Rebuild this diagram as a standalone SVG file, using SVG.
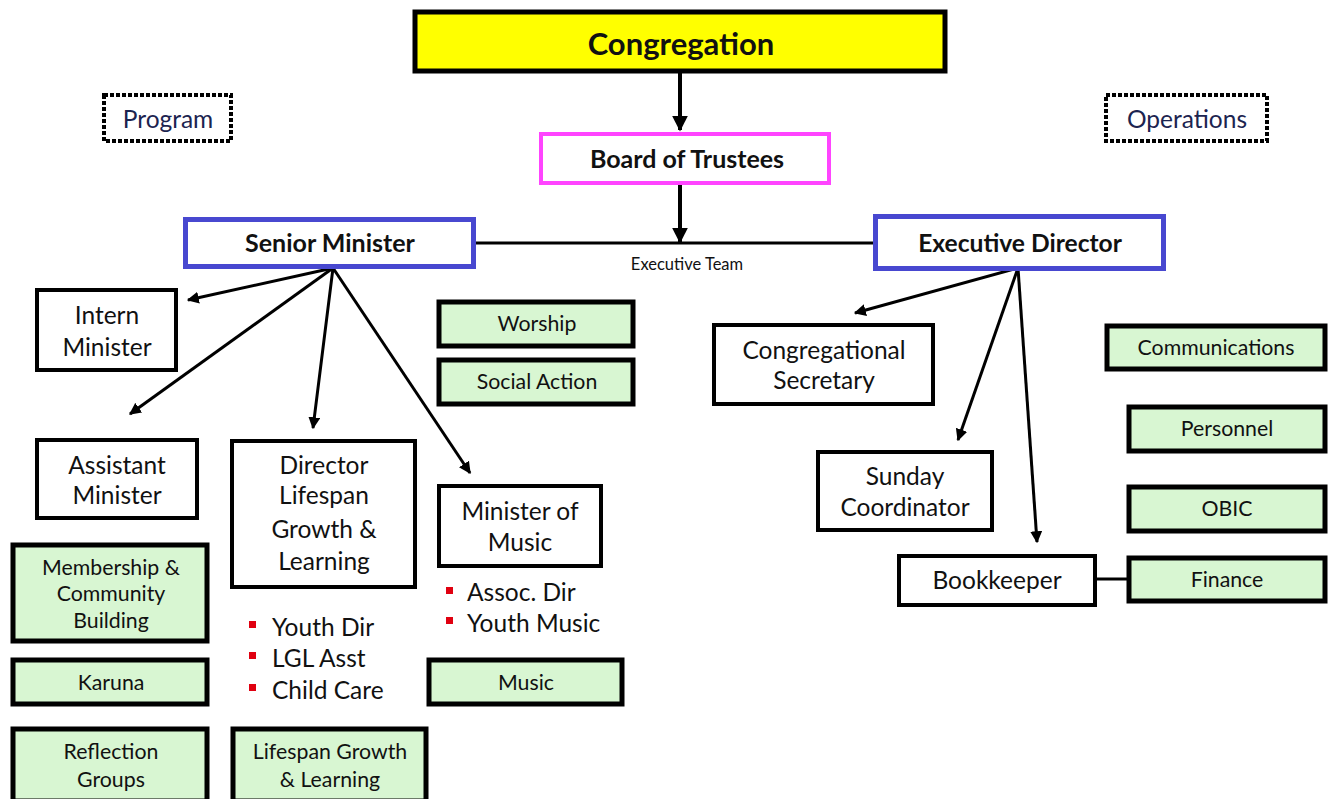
<svg xmlns="http://www.w3.org/2000/svg" width="1330" height="799" viewBox="0 0 1330 799">
<defs>
<style>
text{font-family:Lato,"Liberation Sans",sans-serif;fill:#111;text-anchor:middle}
.b{font-weight:bold}
.box{fill:#fff;stroke:#000;stroke-width:4}
.grn{fill:#D8F6D2;stroke:#000;stroke-width:5}
.dot{fill:none;stroke:#000;stroke-width:4;stroke-dasharray:4 2}
.ln{stroke:#000;stroke-width:3;fill:none}
.lbl{font-size:24.5px}
.sm{font-size:21.3px}
.bul{fill:#E00010}
.st{text-anchor:start}
</style>
<marker id="ah" viewBox="0 0 10 10" refX="9" refY="5" markerWidth="4" markerHeight="4" orient="auto" markerUnits="strokeWidth"><path d="M0,0L10,5L0,10z" fill="#000"/></marker>
</defs>
<rect width="1330" height="799" fill="#fff"/>
<g id="connectors">
<line class="ln" x1="680" y1="72" x2="680" y2="130" style="stroke-width:4" marker-end="url(#ah)"/>
<line class="ln" x1="680" y1="185" x2="680" y2="242" style="stroke-width:4" marker-end="url(#ah)"/>
<line class="ln" x1="474" y1="243" x2="876" y2="243"/>
<line class="ln" x1="333" y1="268" x2="188" y2="300" marker-end="url(#ah)"/>
<line class="ln" x1="333" y1="268" x2="130" y2="414" marker-end="url(#ah)"/>
<line class="ln" x1="333" y1="268" x2="313" y2="428" marker-end="url(#ah)"/>
<line class="ln" x1="333" y1="268" x2="470" y2="473" marker-end="url(#ah)"/>
<line class="ln" x1="1018" y1="268" x2="855" y2="313" marker-end="url(#ah)"/>
<line class="ln" x1="1018" y1="268" x2="958" y2="440" marker-end="url(#ah)"/>
<line class="ln" x1="1018" y1="268" x2="1037" y2="542" marker-end="url(#ah)"/>
<line class="ln" x1="1096" y1="579" x2="1127" y2="579"/>
</g>
<g id="congregation"><rect x="415" y="12" width="530" height="59" fill="#FFFF00" stroke="#000" stroke-width="5"/><text class="b" x="681" y="55" style="font-size:31px">Congregation</text></g>
<g id="board"><rect x="541" y="134" width="288" height="49" fill="#fff" stroke="#FF44FF" stroke-width="4"/><text class="b" x="687" y="168" style="font-size:25px">Board of Trustees</text></g>
<g id="senior"><rect x="185.5" y="219.5" width="288" height="47" fill="#fff" stroke="#4848D0" stroke-width="5"/><text class="b" x="330" y="252" style="font-size:25px">Senior Minister</text></g>
<g id="execdir"><rect x="875.5" y="216.5" width="288" height="52" fill="#fff" stroke="#4848D0" stroke-width="5"/><text class="b" x="1020" y="252" style="font-size:24.6px">Executive Director</text></g>
<text x="687" y="270" style="font-size:16.5px">Executive Team</text>
<g id="program"><rect class="dot" x="104" y="95" width="127" height="46"/><text x="168" y="128" style="font-size:24.5px;fill:#1c2450">Program</text></g>
<g id="operations"><rect class="dot" x="1106" y="95" width="161" height="46"/><text x="1187" y="128" style="font-size:24.5px;fill:#1c2450">Operations</text></g>
<g id="intern"><rect class="box" x="37" y="290" width="139" height="80"/><text class="lbl" x="107" y="324">Intern</text><text class="lbl" x="107" y="356">Minister</text></g>
<g id="assistant"><rect class="box" x="37" y="440" width="160" height="78"/><text class="lbl" x="117" y="474">Assistant</text><text class="lbl" x="117" y="504">Minister</text></g>
<g id="director"><rect class="box" x="232" y="441" width="183" height="146"/><text class="lbl" x="324" y="474">Director</text><text class="lbl" x="324" y="504">Lifespan</text><text class="lbl" x="324" y="538">Growth &amp;</text><text class="lbl" x="324" y="570">Learning</text></g>
<g id="music-min"><rect class="box" x="439" y="486" width="162" height="80"/><text class="lbl" x="520" y="520">Minister of</text><text class="lbl" x="520" y="551">Music</text></g>
<g id="worship"><rect class="grn" x="439" y="302" width="194" height="44"/><text class="sm" x="537" y="331">Worship</text></g>
<g id="social"><rect class="grn" x="439" y="360" width="194" height="44"/><text class="sm" x="537" y="389">Social Action</text></g>
<g id="membership"><rect class="grn" x="13" y="545" width="194" height="96"/><text class="sm" x="111" y="575">Membership &amp;</text><text class="sm" x="111" y="601">Community</text><text class="sm" x="111" y="628">Building</text></g>
<g id="karuna"><rect class="grn" x="13" y="660" width="194" height="44"/><text class="sm" x="111" y="690">Karuna</text></g>
<g id="reflection"><rect class="grn" x="13" y="729" width="194" height="72"/><text class="sm" x="111" y="759">Reflection</text><text class="sm" x="111" y="787">Groups</text></g>
<g id="lgl"><rect class="grn" x="233" y="729" width="193" height="72"/><text class="sm" x="330" y="759">Lifespan Growth</text><text class="sm" x="330" y="787">&amp; Learning</text></g>
<g id="music"><rect class="grn" x="429" y="660" width="193" height="44"/><text class="sm" x="526" y="690">Music</text></g>
<g id="dir-list"><rect class="bul" x="249" y="621" width="7" height="7"/><text class="lbl st" x="272" y="636">Youth Dir</text><rect class="bul" x="249" y="652" width="7" height="7"/><text class="lbl st" x="272" y="667">LGL Asst</text><rect class="bul" x="249" y="684" width="7" height="7"/><text class="lbl st" x="272" y="699">Child Care</text></g>
<g id="music-list"><rect class="bul" x="446" y="587" width="7" height="7"/><text class="lbl st" x="467" y="601">Assoc. Dir</text><rect class="bul" x="446" y="617" width="7" height="7"/><text class="lbl st" x="467" y="632">Youth Music</text></g>
<g id="congsec"><rect class="box" x="714" y="325" width="219" height="79"/><text class="lbl" x="824" y="359">Congregational</text><text class="lbl" x="824" y="389">Secretary</text></g>
<g id="sunday"><rect class="box" x="818" y="452" width="174" height="78"/><text class="lbl" x="905" y="485">Sunday</text><text class="lbl" x="905" y="516">Coordinator</text></g>
<g id="bookkeeper"><rect class="box" x="899" y="556" width="196" height="49"/><text class="lbl" x="997" y="589">Bookkeeper</text></g>
<g id="communications"><rect class="grn" x="1107" y="326" width="218" height="43"/><text class="sm" x="1216" y="355">Communications</text></g>
<g id="personnel"><rect class="grn" x="1129" y="407" width="196" height="44"/><text class="sm" x="1227" y="436">Personnel</text></g>
<g id="obic"><rect class="grn" x="1129" y="487" width="196" height="44"/><text class="sm" x="1227" y="516">OBIC</text></g>
<g id="finance"><rect class="grn" x="1129" y="558" width="196" height="43"/><text class="sm" x="1227" y="587">Finance</text></g>
</svg>
